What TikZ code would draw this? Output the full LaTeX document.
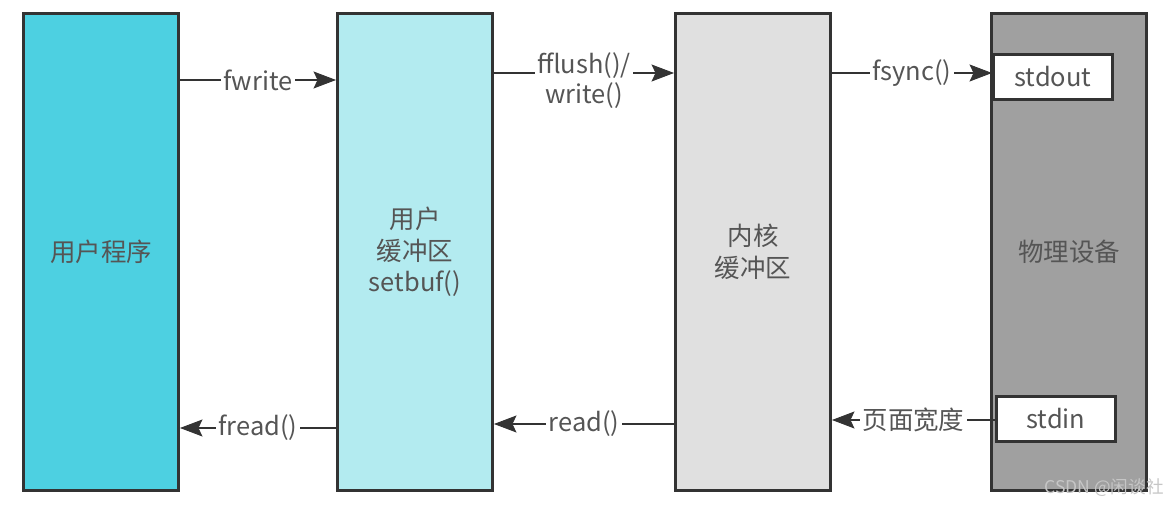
\documentclass[tikz,border=0pt]{standalone}
\usepackage{fontspec}
\setmainfont{Noto Sans CJK SC}
\usetikzlibrary{arrows.meta,positioning}
\definecolor{IoCyan}{HTML}{4DD0E1}
\definecolor{IoLight}{HTML}{B3EBF0}
\definecolor{IoGrey}{HTML}{E0E0E0}
\definecolor{IoDev}{HTML}{A0A0A0}
\definecolor{IoDark}{HTML}{333333}
\definecolor{IoText}{HTML}{555555}

\begin{document}
\begin{tikzpicture}[x=0.02cm,y=-0.02cm,
  col/.style={draw=IoDark,line width=1.7pt,minimum width=3.1cm,minimum height=9.54cm,
    align=center,text=IoText,font=\fontsize{14.5}{18}\selectfont},
  port/.style={draw=IoDark,fill=white,line width=1.7pt,minimum width=2.38cm,minimum height=0.9cm,
    text=IoText,font=\fontsize{14.5}{18}\selectfont},
  flow/.style={draw=IoDark,line width=1.7pt,
    -{Stealth[length=0.45cm,width=0.34cm,inset=0.08cm,line width=0.5pt,fill=IoDark]}},
  lbl/.style={fill=white,inner sep=1.5pt,text=IoText,font=\fontsize{14.5}{17}\selectfont}]
\useasboundingbox (0,0) rectangle (1169,506);
% columns
\node[col,fill=IoCyan] (prog) at (101,252) {用户程序};
\node[col,fill=IoLight] (ubuf) at (415,252) {用户\\缓冲区\\setbuf()};
\node[col,fill=IoGrey] (kbuf) at (753,252) {内核\\缓冲区};
\node[col,fill=IoDev] (dev) at (1069,252) {物理设备};
\node[port] (stdout) at (1053,77) {stdout};
\node[port] (stdin) at (1056,419) {stdin};
% write path
\draw[flow] (prog.east |- 0,80) -- node[lbl] (fw) {fwrite} (ubuf.west |- 0,80);
\draw[flow] (ubuf.east |- 0,73) -- node[lbl,align=center,yshift=-0.16cm] (ff) {fflush()/\\write()} (kbuf.west |- 0,73);
\draw[flow] (kbuf.east |- 0,73) -- node[lbl] (fs) {fsync()} (stdout.west |- 0,73);
% read path
\draw[flow] (ubuf.west |- 0,428) -- node[lbl] (fr) {fread()} (prog.east |- 0,428);
\draw[flow] (kbuf.west |- 0,424) -- node[lbl] (rd) {read()} (ubuf.east |- 0,424);
\draw[flow] (stdin.west |- 0,420) -- node[lbl] (pg) {页面宽度} (kbuf.east |- 0,420);
\node[font=\fontsize{10}{12}\selectfont,text=gray!45] (mark) at (1104,488) {CSDN @闲谈社};
\end{tikzpicture}
\end{document}
